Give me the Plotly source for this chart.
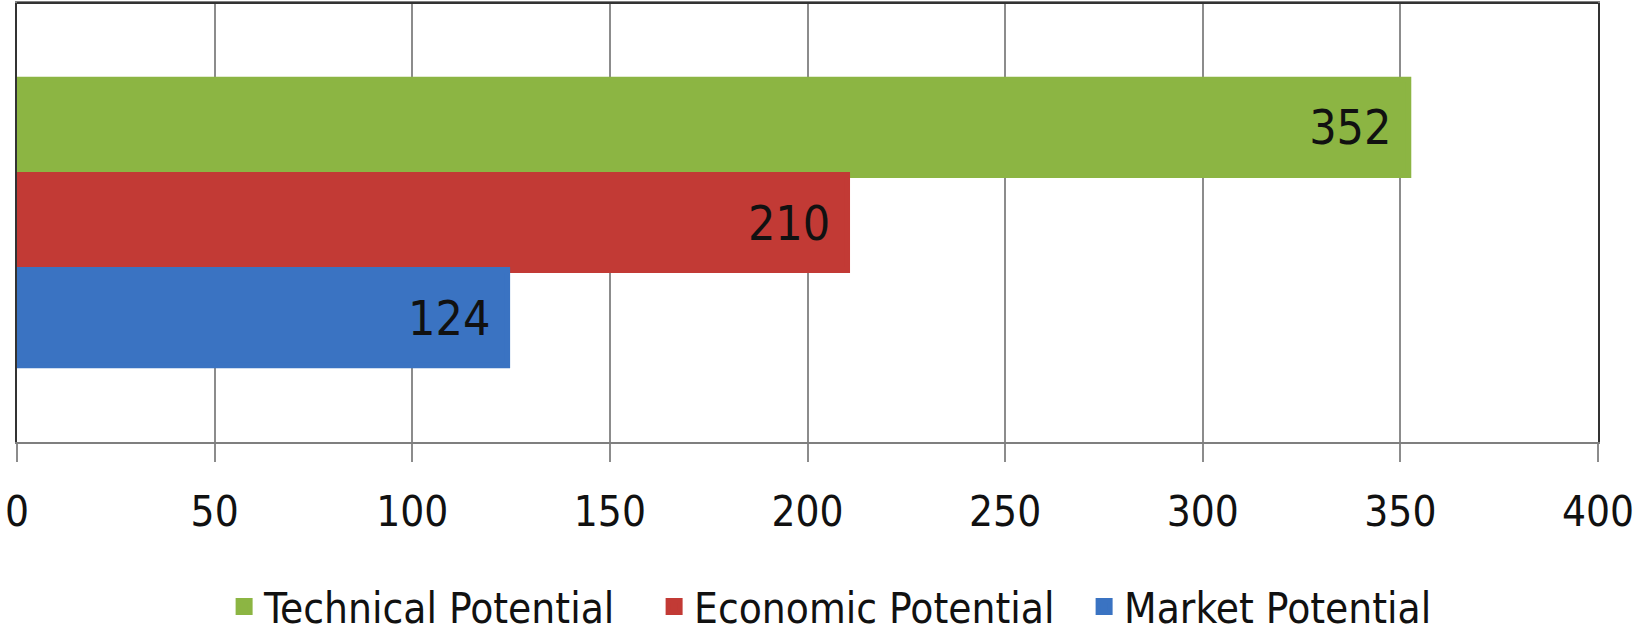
import plotly.graph_objects as go

categories = [""]
series_names = ["Technical Potential", "Economic Potential", "Market Potential"]
series_values = [[352], [210], [124]]
series_colors = ["#8cb543", "#c23a35", "#3a73c2"]
tick_values = [0, 50, 100, 150, 200, 250, 300, 350, 400]

FONT = "DejaVu Sans Condensed, Liberation Sans Narrow, sans-serif"

fig = go.Figure()
for name, vals, col in zip(series_names, series_values, series_colors):
    fig.add_trace(go.Bar(
        name=name, y=categories, x=vals, orientation="h",
        marker=dict(color=col, line=dict(width=6, color=col)),
        texttemplate="%{x}\u00a0", textposition="inside",
        insidetextanchor="end",
        textfont=dict(family=FONT, size=48, color="#111111"),
    ))

fig.update_layout(
    width=1637, height=638,
    margin=dict(l=17, r=39, t=3, b=196, autoexpand=False),
    paper_bgcolor="white", plot_bgcolor="white",
    barmode="group", bargap=0.35, bargroupgap=0,
    showlegend=True,
    legend=dict(orientation="h", x=0.131, xanchor="left", y=-0.375, yanchor="middle",
                font=dict(family=FONT, size=42, color="#111111"),
                entrywidth=385, traceorder="normal"),
    xaxis=dict(range=[0, 400], tickvals=tick_values, showgrid=True, gridcolor="#8c8c8c",
               gridwidth=1.5, showline=True, linecolor="#7f7f7f", linewidth=2, mirror=True,
               ticks="outside", ticklen=18, tickcolor="#8c8c8c", tickwidth=1.5,
               ticklabelstandoff=14, ticklabeloverflow="allow",
               tickfont=dict(family=FONT, size=42, color="#111111"), zeroline=False),
    yaxis=dict(autorange="reversed", showticklabels=False, showgrid=False, showline=True,
               linecolor="#333333", linewidth=2, mirror=True, ticks=""),
    font=dict(family=FONT),
    shapes=[dict(type="line", xref="paper", yref="paper", x0=0, x1=1, y0=1, y1=1,
                 line=dict(color="#333333", width=2))],
)

fig.write_html("out.html")
